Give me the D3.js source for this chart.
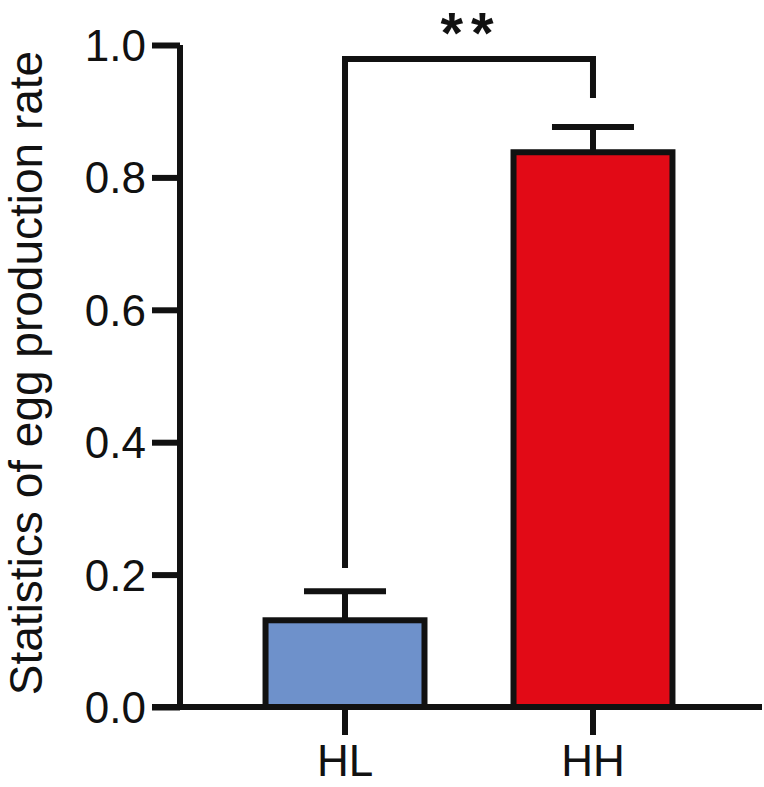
<!DOCTYPE html>
<html>
<head>
<meta charset="utf-8">
<script src="https://cdn.jsdelivr.net/npm/d3@7"></script>
<style>
  body { margin: 0; background: #fff; }
  text { font-family: "Liberation Sans", Arial, sans-serif; fill: #111; }
</style>
</head>
<body>
<svg id="chart"></svg>
<script>
// data
const groups = ["HL", "HH"];
const means = [0.131, 0.838];
const errors = [0.044, 0.038];
const colors = ["#6e91cb", "#e20a16"];
const yTicks = [0.0, 0.2, 0.4, 0.6, 0.8, 1.0];
const sigLabel = "**";
const sigLevel = 0.979;
const sigLegs = [0.21, 0.92];

const width = 764, height = 787;
const svg = d3.select("#chart").attr("width", width).attr("height", height);

const y = d3.scaleLinear().domain([0, 1]).range([707, 45]);
const x = d3.scaleBand().domain(groups).range([178, 760]).paddingInner(0.359).paddingOuter(0.353);
const ink = "#111";
const sw = 6;

// y axis
const yAxis = svg.append("g").attr("transform", "translate(180,0)")
    .call(d3.axisLeft(y).tickValues(yTicks).tickFormat(d3.format(".1f")).tickSize(28).tickPadding(6));
yAxis.select(".domain").attr("d", `M0,${y(1)}V${y(0)}`).attr("stroke", ink).attr("stroke-width", sw);
yAxis.selectAll(".tick line").attr("stroke", ink).attr("stroke-width", sw);
yAxis.selectAll(".tick text").attr("font-size", 44).attr("font-family", "Liberation Sans, Arial, sans-serif")
    .attr("fill", ink).attr("dy", "0.35em");

// bars
const bw = x.bandwidth();
svg.selectAll("rect.bar").data(groups).join("rect")
    .attr("class", "bar")
    .attr("x", d => x(d))
    .attr("y", (d, i) => y(means[i]))
    .attr("width", bw)
    .attr("height", (d, i) => y(0) - y(means[i]))
    .attr("fill", (d, i) => colors[i])
    .attr("stroke", ink).attr("stroke-width", sw);

// error bars (upper only)
const capW = 82;
groups.forEach((g, i) => {
    const cx = x(g) + bw / 2;
    svg.append("line").attr("x1", cx).attr("x2", cx)
        .attr("y1", y(means[i])).attr("y2", y(means[i] + errors[i]))
        .attr("stroke", ink).attr("stroke-width", sw);
    svg.append("line").attr("x1", cx - capW / 2).attr("x2", cx + capW / 2)
        .attr("y1", y(means[i] + errors[i])).attr("y2", y(means[i] + errors[i]))
        .attr("stroke", ink).attr("stroke-width", sw);
});

// x axis
const xAxis = svg.append("g").attr("transform", `translate(0,${y(0)})`)
    .call(d3.axisBottom(x).tickSize(28).tickPadding(10));
xAxis.select(".domain").attr("d", "M152,0H762").attr("stroke", ink).attr("stroke-width", sw);
xAxis.selectAll(".tick line").attr("stroke", ink).attr("stroke-width", sw);
xAxis.selectAll(".tick text").attr("font-size", 44).attr("font-family", "Liberation Sans, Arial, sans-serif")
    .attr("fill", ink);

// significance bracket
const xa = x(groups[0]) + bw / 2, xb = x(groups[1]) + bw / 2;
svg.append("path")
    .attr("d", `M${xa},${y(sigLegs[0])}V${y(sigLevel)}H${xb}V${y(sigLegs[1])}`)
    .attr("fill", "none").attr("stroke", ink).attr("stroke-width", sw)
    .attr("stroke-linejoin", "miter");
svg.append("text").attr("x", (xa + xb) / 2 + 2).attr("y", 53)
    .attr("text-anchor", "middle").attr("font-size", 58).attr("font-weight", "bold")
    .attr("letter-spacing", 8)
    .text(sigLabel);

// y title
svg.append("text")
    .attr("transform", `translate(42,373) rotate(-90)`)
    .attr("text-anchor", "middle").attr("font-size", 46)
    .text("Statistics of egg production rate");
</script>
</body>
</html>
